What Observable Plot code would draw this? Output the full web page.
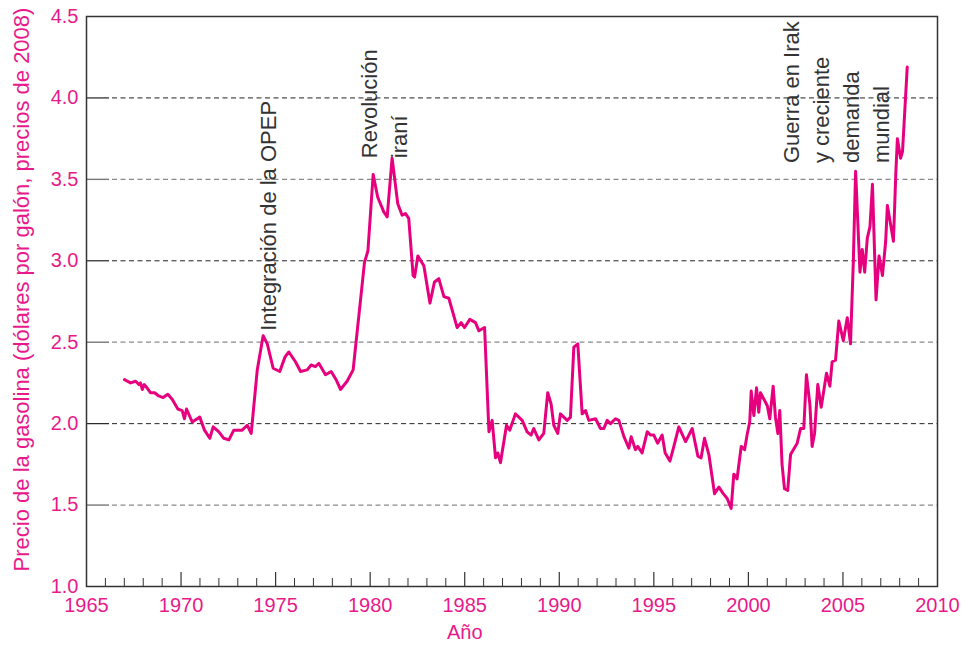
<!DOCTYPE html>
<html>
<head>
<meta charset="utf-8">
<script src="https://cdn.jsdelivr.net/npm/d3@7"></script>
<script src="https://cdn.jsdelivr.net/npm/@observablehq/plot@0.6"></script>
<style>
  html, body { margin: 0; padding: 0; background: #fff; }
  #chart svg { display: block; }
</style>
</head>
<body>
<div id="chart"></div>
<script>
const years = [
  1967.01, 1967.33, 1967.6, 1967.77, 1967.85, 1967.95, 1968.05, 1968.2, 1968.38, 1968.6,
  1968.82, 1969.05, 1969.3, 1969.53, 1969.83, 1970.06, 1970.18, 1970.29, 1970.59, 1970.99,
  1971.24, 1971.52, 1971.7, 1972.0, 1972.26, 1972.53, 1972.79, 1973.23, 1973.5, 1973.71,
  1974.03, 1974.34, 1974.56, 1974.87, 1975.22, 1975.5, 1975.7, 1976.05, 1976.32, 1976.67,
  1976.88, 1977.1, 1977.29, 1977.64, 1977.94, 1978.2, 1978.43, 1978.78, 1979.1, 1979.7,
  1979.88, 1980.16, 1980.4, 1980.72, 1980.9, 1981.16, 1981.46, 1981.69, 1981.87, 1982.04,
  1982.27, 1982.35, 1982.52, 1982.84, 1983.16, 1983.4, 1983.63, 1983.9, 1984.16, 1984.6,
  1984.81, 1984.99, 1985.27, 1985.57, 1985.75, 1986.05, 1986.28, 1986.45, 1986.63, 1986.75,
  1986.89, 1987.21, 1987.38, 1987.68, 1988.04, 1988.3, 1988.51, 1988.65, 1988.92, 1989.18,
  1989.39, 1989.57, 1989.71, 1989.92, 1990.06, 1990.42, 1990.59, 1990.77, 1990.98, 1991.21,
  1991.39, 1991.56, 1991.92, 1992.18, 1992.36, 1992.53, 1992.71, 1992.97, 1993.15, 1993.42,
  1993.68, 1993.8, 1994.03, 1994.15, 1994.38, 1994.65, 1994.83, 1995.0, 1995.2, 1995.44,
  1995.6, 1995.85, 1996.06, 1996.32, 1996.68, 1997.03, 1997.33, 1997.5, 1997.68, 1997.91,
  1998.21, 1998.44, 1998.67, 1998.88, 1999.09, 1999.23, 1999.4, 1999.62, 1999.8, 1999.93,
  2000.07, 2000.15, 2000.29, 2000.43, 2000.55, 2000.64, 2001.0, 2001.13, 2001.31, 2001.43,
  2001.56, 2001.66, 2001.78, 2001.91, 2002.08, 2002.23, 2002.58, 2002.76, 2002.93, 2003.07,
  2003.25, 2003.37, 2003.5, 2003.67, 2003.85, 2004.13, 2004.31, 2004.43, 2004.61, 2004.78,
  2005.02, 2005.23, 2005.4, 2005.55, 2005.67, 2005.9, 2006.02, 2006.15, 2006.29, 2006.43,
  2006.56, 2006.75, 2006.91, 2007.09, 2007.26, 2007.35, 2007.67, 2007.8, 2007.88, 2008.05,
  2008.15, 2008.4
];
const prices = [
  2.27, 2.25, 2.26, 2.24, 2.25, 2.21, 2.24, 2.22, 2.19, 2.19,
  2.17, 2.16, 2.18, 2.15, 2.09, 2.08, 2.03, 2.09, 2.01, 2.04,
  1.96, 1.91, 1.98, 1.95, 1.91, 1.90, 1.96, 1.96, 1.99, 1.94,
  2.33, 2.54, 2.49, 2.34, 2.32, 2.41, 2.44, 2.38, 2.32, 2.33,
  2.36, 2.35, 2.37, 2.30, 2.32, 2.27, 2.21, 2.26, 2.33, 2.99,
  3.06, 3.53, 3.39, 3.30, 3.27, 3.63, 3.35, 3.28, 3.29, 3.26,
  2.91, 2.90, 3.03, 2.97, 2.74, 2.87, 2.89, 2.78, 2.77, 2.59,
  2.62, 2.59, 2.64, 2.62, 2.57, 2.59, 1.95, 2.02, 1.79, 1.82,
  1.76, 1.99, 1.96, 2.06, 2.02, 1.95, 1.93, 1.97, 1.90, 1.94,
  2.19, 2.12, 1.99, 1.94, 2.06, 2.02, 2.04, 2.47, 2.49, 2.06,
  2.08, 2.02, 2.03, 1.97, 1.97, 2.02, 2.00, 2.03, 2.02, 1.92,
  1.85, 1.92, 1.84, 1.86, 1.82, 1.95, 1.93, 1.93, 1.88, 1.93,
  1.82, 1.77, 1.86, 1.98, 1.89, 1.97, 1.80, 1.79, 1.91, 1.81,
  1.57, 1.61, 1.57, 1.54, 1.48, 1.69, 1.66, 1.86, 1.84, 1.93,
  2.01, 2.20, 2.05, 2.22, 2.07, 2.19, 2.11, 2.03, 2.23, 2.04,
  1.94, 2.08, 1.75, 1.60, 1.59, 1.81, 1.88, 1.97, 1.97, 2.30,
  2.12, 1.86, 1.94, 2.24, 2.10, 2.31, 2.23, 2.38, 2.39, 2.63,
  2.51, 2.65, 2.49, 3.00, 3.55, 2.93, 3.07, 2.93, 3.14, 3.21,
  3.47, 2.76, 3.03, 2.91, 3.12, 3.34, 3.12, 3.55, 3.75, 3.63,
  3.67, 4.19
];

const xTickLabels = [1965, 1970, 1975, 1980, 1985, 1990, 1995, 2000, 2005, 2010];
const minorYears = d3.range(1966, 2010).filter(y => y % 5 !== 0);
const majorYears = [1970, 1975, 1980, 1985, 1990, 1995, 2000, 2005];
const yTickLabels = [1.0, 1.5, 2.0, 2.5, 3.0, 3.5, 4.0, 4.5];
const gridIntegers = [2.0, 3.0, 4.0];
const gridHalves = [1.5, 2.5, 3.5];

const annotationTexts = ["Integración de la OPEP", "Revolución\niraní", "Guerra en Irak\ny creciente\ndemanda\nmundial"];
const annotationX = [1974.52, 1980.63, 2004.53];
const annotationY = [2.57, 3.63, 3.60];

const yTitle = "Precio de la gasolina (dólares por galón, precios de 2008)";
const xTitle = "Año";

const data = years.map((year, i) => ({year, price: prices[i]}));
const annotations = annotationTexts.map((text, i) => ({text, x: annotationX[i], y: annotationY[i]}));

const pink = "#e8198b";
const lineColor = "#e6007e";
const font = "'Liberation Sans', Arial, Helvetica, sans-serif";

const chart = Plot.plot({
  width: 963,
  height: 645,
  marginTop: 16,
  marginRight: 26,
  marginBottom: 59,
  marginLeft: 86,
  style: {fontFamily: font, background: "#fff", overflow: "visible"},
  x: {domain: [1965, 2010]},
  y: {domain: [1, 4.5]},
  marks: [
    Plot.ruleY(gridIntegers, {y: d => d, stroke: "#222", strokeWidth: 1, strokeDasharray: "5,3.5", insetLeft: 26}),
    Plot.ruleY(gridHalves, {y: d => d, stroke: "#8a8a8a", strokeWidth: 1.2, strokeDasharray: "5,3.5", insetLeft: 26}),
    Plot.ruleY(gridIntegers, {y: d => d, stroke: "#222", strokeWidth: 1.2, insetRight: 828}),
    Plot.ruleY(gridHalves, {y: d => d, stroke: "#777", strokeWidth: 1.4, insetRight: 828}),
    Plot.ruleX(minorYears, {x: d => d, stroke: "#333", strokeWidth: 1, insetTop: 562}),
    Plot.ruleX(majorYears, {x: d => d, stroke: "#333", strokeWidth: 1.2, insetTop: 556}),
    Plot.frame({stroke: "#333", strokeWidth: 1.5}),
    Plot.axisY({ticks: yTickLabels, tickSize: 0, tickPadding: 8, tickFormat: d3.format(".1f"), label: null, fontSize: 20, fill: pink}),
    Plot.axisX({ticks: xTickLabels, tickSize: 0, tickPadding: 11, tickFormat: d => String(d), label: null, fontSize: 20, fill: pink}),
    Plot.text([yTitle], {frameAnchor: "left", textAnchor: "middle", dx: -65, dy: -12, rotate: -90, fontSize: 22, fill: pink}),
    Plot.text([xTitle], {x: () => 1985, frameAnchor: "bottom", dy: 52, fontSize: 20, fill: pink}),
    Plot.line(data, {x: "year", y: "price", stroke: lineColor, strokeWidth: 3, strokeLinejoin: "round", curve: "linear"}),
    Plot.text(annotations, {x: "x", y: "y", text: "text", rotate: -90, textAnchor: "start", lineAnchor: "middle", lineHeight: 1.36, fontSize: 22, fill: "#333"})
  ]
});

document.getElementById("chart").appendChild(chart);
</script>
</body>
</html>
